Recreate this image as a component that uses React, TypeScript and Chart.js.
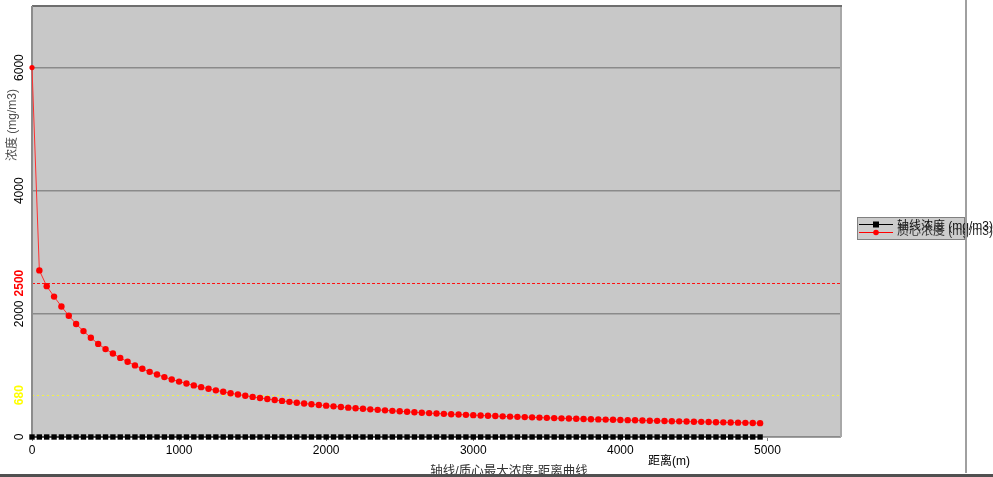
import React, { useEffect, useRef } from 'react';
import { Chart, registerables } from 'chart.js';

Chart.register(...registerables);

const FONT = '"Liberation Sans", "Noto Sans CJK SC", Arial, sans-serif';

const distances = [
  0, 50, 100, 150, 200, 250, 300, 350, 400, 450,
  500, 550, 600, 650, 700, 750, 800, 850, 900, 950,
  1000, 1050, 1100, 1150, 1200, 1250, 1300, 1350, 1400, 1450,
  1500, 1550, 1600, 1650, 1700, 1750, 1800, 1850, 1900, 1950,
  2000, 2050, 2100, 2150, 2200, 2250, 2300, 2350, 2400, 2450,
  2500, 2550, 2600, 2650, 2700, 2750, 2800, 2850, 2900, 2950,
  3000, 3050, 3100, 3150, 3200, 3250, 3300, 3350, 3400, 3450,
  3500, 3550, 3600, 3650, 3700, 3750, 3800, 3850, 3900, 3950,
  4000, 4050, 4100, 4150, 4200, 4250, 4300, 4350, 4400, 4450,
  4500, 4550, 4600, 4650, 4700, 4750, 4800, 4850, 4900, 4950,
];

const axisValues = [
  0, 0, 0, 0, 0, 0, 0, 0, 0, 0,
  0, 0, 0, 0, 0, 0, 0, 0, 0, 0,
  0, 0, 0, 0, 0, 0, 0, 0, 0, 0,
  0, 0, 0, 0, 0, 0, 0, 0, 0, 0,
  0, 0, 0, 0, 0, 0, 0, 0, 0, 0,
  0, 0, 0, 0, 0, 0, 0, 0, 0, 0,
  0, 0, 0, 0, 0, 0, 0, 0, 0, 0,
  0, 0, 0, 0, 0, 0, 0, 0, 0, 0,
  0, 0, 0, 0, 0, 0, 0, 0, 0, 0,
  0, 0, 0, 0, 0, 0, 0, 0, 0, 0,
];

const centroidValues = [
  6000, 2706, 2450, 2280, 2120, 1970, 1835, 1720, 1612, 1512,
  1428, 1355, 1285, 1222, 1163, 1108, 1058, 1014, 973, 935,
  900, 868, 838, 810, 783, 758, 734, 711, 690, 670,
  651, 634, 617, 601, 586, 571, 557, 544, 532, 520,
  509, 498, 487, 477, 467, 458, 449, 441, 433, 425,
  417, 409, 402, 395, 388, 382, 376, 370, 365, 360,
  355, 350, 345, 340, 335, 331, 327, 323, 319, 315,
  311, 307, 303, 300, 296, 293, 289, 286, 283, 280,
  277, 274, 271, 268, 265, 262, 259, 256, 254, 251,
  248, 246, 243, 240, 238, 235, 233, 230, 228, 225,
];

const seriesLabels = ['轴线浓度 (mg/m3)', '质心浓度 (mg/m3)'];
const xTickValues = [0, 1000, 2000, 3000, 4000, 5000];
const yTickValues = [0, 2000, 4000, 6000];
const thresholdValues = [2500, 680];
const thresholdColors = ['#ff1010', '#f4f440'];
const thresholdLabelColors = ['#ff0000', '#ffff00'];
const yTitle = '浓度 (mg/m3)';
const xTitle = '距离(m)';
const caption = '轴线/质心最大浓度-距离曲线';

function rotatedText(ctx: CanvasRenderingContext2D, text: string, x: number, y: number) {
  ctx.save();
  ctx.translate(x, y);
  ctx.rotate(-Math.PI / 2);
  ctx.textAlign = 'center';
  ctx.textBaseline = 'middle';
  ctx.fillText(text, 0, 0);
  ctx.restore();
}

const decorPlugin = {
  id: 'decor',
  beforeDraw(chart: any) {
    const { ctx, chartArea: a } = chart;
    ctx.save();
    ctx.fillStyle = '#ffffff';
    ctx.fillRect(0, 0, chart.width, chart.height);
    ctx.fillStyle = '#c8c8c8';
    ctx.fillRect(a.left, a.top, a.right - a.left, a.bottom - a.top);
    ctx.restore();
  },
  beforeDatasetsDraw(chart: any) {
    const { ctx, chartArea: a, scales } = chart;
    ctx.save();
    ctx.lineWidth = 1;
    thresholdValues.forEach((v, i) => {
      const y = Math.round(scales.y.getPixelForValue(v)) + 0.5;
      ctx.strokeStyle = thresholdColors[i];
      ctx.setLineDash(i === 0 ? [3, 2] : [2, 3]);
      ctx.beginPath();
      ctx.moveTo(a.left, y);
      ctx.lineTo(a.right, y);
      ctx.stroke();
    });
    ctx.setLineDash([]);
    // plot borders (behind markers)
    ctx.lineWidth = 2;
    ctx.strokeStyle = '#a8a8a8';
    ctx.beginPath();
    ctx.moveTo(a.right, a.top);
    ctx.lineTo(a.right, a.bottom);
    ctx.stroke();
    ctx.strokeStyle = '#6e6e6e';
    ctx.beginPath();
    ctx.moveTo(a.left, a.top);
    ctx.lineTo(a.right + 1, a.top);
    ctx.stroke();
    ctx.strokeStyle = '#8c8c8c';
    ctx.beginPath();
    ctx.moveTo(a.left, a.top);
    ctx.lineTo(a.left, a.bottom + 1);
    ctx.stroke();
    ctx.lineWidth = 1;
    ctx.strokeStyle = '#a0a0a0';
    ctx.beginPath();
    ctx.moveTo(a.left, a.bottom + 0.5);
    ctx.lineTo(a.right, a.bottom + 0.5);
    ctx.stroke();
    ctx.restore();
  },
  afterDraw(chart: any) {
    const { ctx, scales } = chart;
    ctx.save();

    // y tick labels (rotated)
    ctx.font = `12px ${FONT}`;
    ctx.fillStyle = '#000000';
    yTickValues.forEach((v) => {
      rotatedText(ctx, String(v), 20, scales.y.getPixelForValue(v));
    });
    ctx.font = `bold 12px ${FONT}`;
    thresholdValues.forEach((v, i) => {
      ctx.fillStyle = thresholdLabelColors[i];
      rotatedText(ctx, String(v), 20, scales.y.getPixelForValue(v));
    });

    // y title
    ctx.font = `12px ${FONT}`;
    ctx.fillStyle = '#505050';
    rotatedText(ctx, yTitle, 13, 125);

    // x title
    ctx.fillStyle = '#000000';
    ctx.textAlign = 'center';
    ctx.textBaseline = 'middle';
    ctx.fillText(xTitle, 669, 462);

    // caption
    ctx.fillStyle = '#333333';
    ctx.font = `12.5px ${FONT}`;
    ctx.fillText(caption, 509, 472);

    // legend
    ctx.fillStyle = '#cccccc';
    ctx.fillRect(857, 217, 107, 22);
    ctx.strokeStyle = '#808080';
    ctx.lineWidth = 1;
    ctx.strokeRect(857.5, 217.5, 107, 22);
    const legendY = [224, 232];
    const legendColors = ['#000000', '#ff0000'];
    chart.data.datasets.forEach((ds: any, i: number) => {
      const y = legendY[i];
      ctx.strokeStyle = legendColors[i];
      ctx.beginPath();
      ctx.moveTo(859, y + 0.5);
      ctx.lineTo(893, y + 0.5);
      ctx.stroke();
      ctx.fillStyle = legendColors[i];
      if (i === 0) {
        ctx.fillRect(873, y - 2.5, 6, 6);
      } else {
        ctx.beginPath();
        ctx.arc(876, y + 0.5, 2.8, 0, Math.PI * 2);
        ctx.fill();
      }
    });
    ctx.font = `12px ${FONT}`;
    ctx.textAlign = 'left';
    ctx.textBaseline = 'middle';
    chart.data.datasets.forEach((ds: any, i: number) => {
      ctx.fillStyle = i === 0 ? '#111111' : '#333333';
      ctx.fillText(ds.label, 897, i === 0 ? 227 : 232);
    });

    // frame lines
    ctx.strokeStyle = '#a0a0a0';
    ctx.lineWidth = 2;
    ctx.beginPath();
    ctx.moveTo(966, 0);
    ctx.lineTo(966, 473);
    ctx.stroke();
    ctx.fillStyle = '#505050';
    ctx.fillRect(0, 474, chart.width, 3);
    ctx.restore();
  },
};

export default function App() {
  const ref = useRef<HTMLCanvasElement>(null);
  useEffect(() => {
    document.body.style.margin = '0';
    const chart = new Chart(ref.current as HTMLCanvasElement, {
      type: 'line',
      data: {
        datasets: [
          {
            label: seriesLabels[0],
            data: distances.map((d, i) => ({ x: d, y: axisValues[i] })),
            borderColor: '#000000',
            backgroundColor: '#000000',
            borderWidth: 1,
            pointStyle: 'rect',
            pointRadius: 3.8,
            pointBorderWidth: 0,
            clip: false,
          },
          {
            label: seriesLabels[1],
            data: distances.map((d, i) => ({ x: d, y: centroidValues[i] })),
            borderColor: '#ff3030',
            backgroundColor: '#ff0000',
            borderWidth: 1,
            pointStyle: 'circle',
            pointRadius: (c: any) => (c.dataIndex === 0 ? 2.6 : 3.2),
            pointBorderWidth: 0,
            clip: false,
          },
        ],
      },
      options: {
        animation: false,
        responsive: false,
        maintainAspectRatio: false,
        devicePixelRatio: 1,
        layout: { padding: { top: 6, right: 152, left: 0, bottom: 0 } },
        plugins: { legend: { display: false }, tooltip: { enabled: false } },
        scales: {
          x: {
            type: 'linear',
            min: 0,
            max: 5500,
            afterFit: (s: any) => {
              s.height = 40;
            },
            afterBuildTicks: (s: any) => {
              s.ticks = xTickValues.map((v) => ({ value: v }));
            },
            ticks: {
              font: { family: FONT, size: 12 },
              color: '#000000',
              padding: 2,
              maxRotation: 0,
              autoSkip: false,
              callback: (v: any) => String(v),
            },
            grid: { drawOnChartArea: false, tickLength: 4, color: '#808080' },
            border: { display: false },
          },
          y: {
            type: 'linear',
            min: 0,
            max: 7000,
            afterFit: (s: any) => {
              s.width = 32;
            },
            afterBuildTicks: (s: any) => {
              s.ticks = yTickValues.map((v) => ({ value: v }));
            },
            ticks: { display: false },
            grid: { color: '#8a8a8a', lineWidth: 1.5, drawTicks: false },
            border: { display: false },
          },
        },
      } as any,
      plugins: [decorPlugin],
    });
    return () => chart.destroy();
  }, []);
  return (
    <div style={{ width: 993, height: 477, position: 'relative' }}>
      <canvas ref={ref} width={993} height={477} style={{ width: 993, height: 477 }} />
    </div>
  );
}
